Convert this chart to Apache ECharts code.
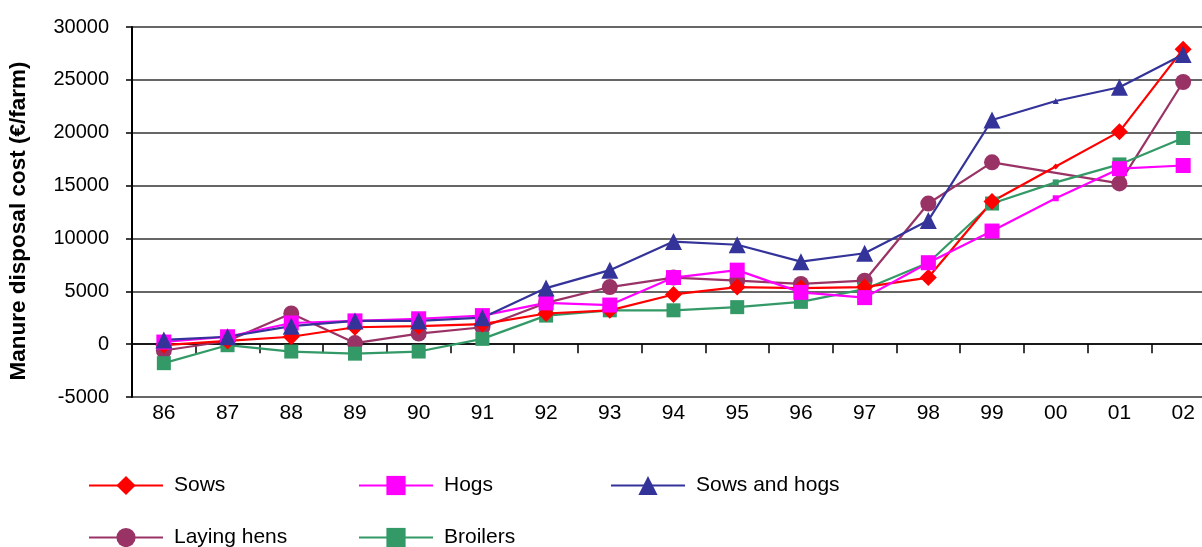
<!DOCTYPE html>
<html>
<head>
<meta charset="utf-8">
<script src="https://cdn.jsdelivr.net/npm/echarts@6/dist/echarts.min.js"></script>
<style>
html,body{margin:0;padding:0;background:#fff;}
#chart{width:1202px;height:547px;}
</style>
</head>
<body>
<div id="chart"></div>
<script>
var categories = ['86','87','88','89','90','91','92','93','94','95','96','97','98','99','00','01','02'];
var sows     = [-100, 300, 700, 1600, 1700, 1900, 2900, 3200, 4700, 5400, 5300, 5400, 6300, 13500, 16800, 20100, 27900];
var hogs     = [200, 700, 2000, 2200, 2400, 2700, 3900, 3700, 6300, 7000, 4900, 4400, 7700, 10700, 13800, 16600, 16900];
var sowsHogs = [400, 700, 1700, 2200, 2200, 2500, 5300, 7000, 9700, 9400, 7800, 8600, 11700, 21200, 23000, 24300, 27400];
var hens     = [-600, 300, 2900, 100, 1000, 1600, 3900, 5400, 6300, 6000, 5700, 6000, 13300, 17200, null, 15200, 24800];
var broilers = [-1800, -100, -700, -900, -700, 500, 2700, 3200, 3200, 3500, 4000, 5200, 7700, 13300, 15300, 17000, 19500];
var yTicks = {min: -5000, max: 30000, step: 5000};
var yTitle = 'Manure disposal cost (\u20AC/farm)';
var names = ['Sows', 'Hogs', 'Sows and hogs', 'Laying hens', 'Broilers'];

var FONT = 'Liberation Sans, Arial, sans-serif';
var chart = echarts.init(document.getElementById('chart'), null, {renderer: 'canvas'});

function mkSeries(name, data, color, symbol, extraSize) {
  return {
    name: name, type: 'line', data: data, xAxisIndex: 0,
    symbol: symbol,
    symbolSize: function (v, p) { return categories[p.dataIndex] === '00' ? 6 : 15 + (extraSize || 0); },
    connectNulls: true,
    showAllSymbol: true,
    lineStyle: {color: color, width: 2.2},
    itemStyle: {color: color},
    emphasis: {disabled: true}
  };
}

function mkLegend(name, left, top) {
  return {
    data: [name], left: left, top: top, orient: 'horizontal',
    itemWidth: 74, itemHeight: 24, padding: 0,
    textStyle: {fontFamily: FONT, fontSize: 21, color: '#000', padding: [0, 0, 0, 6]},
    selectedMode: false
  };
}

var option = {
  animation: false,
  backgroundColor: '#fff',
  grid: {left: 132, right: -13, top: 27, bottom: 150, containLabel: false, outerBoundsMode: 'none'},
  graphic: [{
    type: 'text', x: 19, y: 221, rotation: Math.PI / 2,
    style: {text: yTitle, fontFamily: FONT, fontSize: 22.5, fontWeight: 'bold', fill: '#000',
            textAlign: 'center', textVerticalAlign: 'middle'}
  }],
  legend: [
    mkLegend(names[0], 88, 475),
    mkLegend(names[1], 358, 475),
    mkLegend(names[2], 610, 475),
    mkLegend(names[3], 88, 527),
    mkLegend(names[4], 358, 527)
  ],
  xAxis: [
    {
      type: 'category', data: categories, position: 'bottom', boundaryGap: true,
      axisLine: {show: true, onZero: true, lineStyle: {color: '#000', width: 1.5}},
      axisTick: {show: true, length: 9, lineStyle: {color: '#000', width: 1.5}},
      axisLabel: {show: false},
      splitLine: {show: false}
    },
    {
      type: 'category', data: categories, position: 'bottom', boundaryGap: true,
      axisLine: {show: false, onZero: false},
      axisTick: {show: false},
      axisLabel: {show: true, fontFamily: FONT, fontSize: 21, color: '#000', margin: 6},
      splitLine: {show: false}
    }
  ],
  yAxis: {
    type: 'value', min: yTicks.min, max: yTicks.max, interval: yTicks.step,
    axisLine: {show: true, lineStyle: {color: '#000', width: 2}},
    axisTick: {show: true, length: 6, lineStyle: {color: '#000', width: 1.5}},
    axisLabel: {fontFamily: FONT, fontSize: 20, color: '#000', margin: 23,
                formatter: function (v) { return String(v); }},
    splitLine: {show: true, lineStyle: {color: '#333', width: 1.5}}
  },
  series: [
    mkSeries(names[3], hens, '#993366', 'circle', 1),
    mkSeries(names[4], broilers, '#339966', 'rect', -1),
    mkSeries(names[0], sows, '#ff0000', 'diamond', 2),
    mkSeries(names[1], hogs, '#ff00ff', 'rect', 0),
    mkSeries(names[2], sowsHogs, '#333399', 'triangle', 2)
  ]
};
chart.setOption(option);
</script>
</body>
</html>
